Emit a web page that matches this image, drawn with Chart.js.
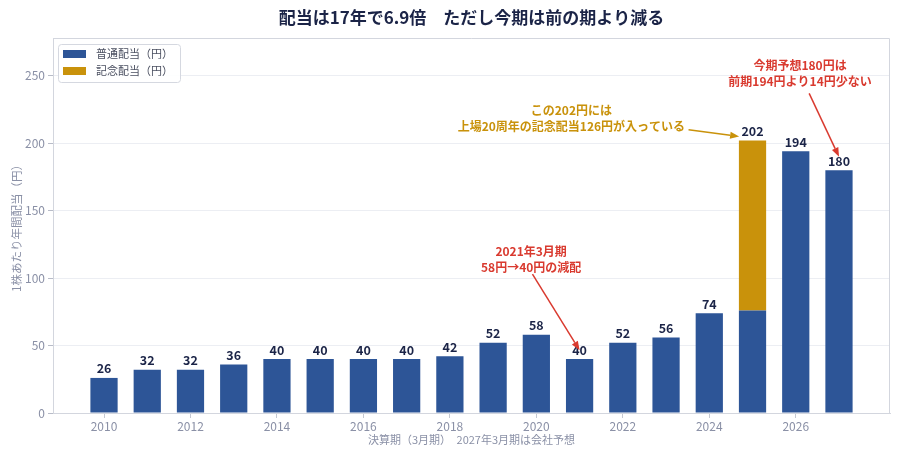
<!DOCTYPE html>
<html>
<head>
<meta charset="utf-8">
<script src="https://cdn.jsdelivr.net/npm/chart.js@4.4.1/dist/chart.umd.min.js"></script>
<style>
  html, body { margin: 0; background: #fff; }
</style>
</head>
<body>
<canvas id="dividendChart" width="900" height="456"></canvas>
<script>
// Data
const years = [2010, 2011, 2012, 2013, 2014, 2015, 2016, 2017, 2018, 2019, 2020, 2021, 2022, 2023, 2024, 2025, 2026, 2027];
const regular = [26, 32, 32, 36, 40, 40, 40, 40, 42, 52, 58, 40, 52, 56, 74, 76, 194, 180];
const commemorative = [null, null, null, null, null, null, null, null, null, null, null, null, null, null, null, 126, null, null];
const xTicks = [2010, 2012, 2014, 2016, 2018, 2020, 2022, 2024, 2026];
const yTicks = [0, 50, 100, 150, 200, 250];

const FONT = "'Noto Sans CJK JP', 'Noto Sans', sans-serif";
const BLUE = "#2d5597";
const GOLD = "#c9920b";
const RED = "#d93a2f";
const NAVY = "#1b2447";
const GRAY = "#8a90a6";

// Annotations in data coordinates: text centre, arrow start, arrow tip
const notes = [
  { lines: ["2021年3月期", "58円→40円の減配"], color: RED, at: [2019.88, 113.7], from: [2019.91, 103], to: [2021.0, 46.5] },
  { lines: ["この202円には", "上場20周年の記念配当126円が入っている"], color: GOLD, at: [2020.81, 218], from: [2023.52, 210], to: [2024.69, 205] },
  { lines: ["今期予想180円は", "前期194円より14円少ない"], color: RED, at: [2026.1, 251.8], from: [2026.31, 237], to: [2027.0, 190] },
];

function drawArrow(ctx, x1, y1, x2, y2, color) {
  const ang = Math.atan2(y2 - y1, x2 - x1);
  const len = 9, half = 3.5;
  ctx.save();
  ctx.strokeStyle = color;
  ctx.fillStyle = color;
  ctx.lineWidth = 1.5;
  ctx.beginPath();
  ctx.moveTo(x1, y1);
  ctx.lineTo(x2 - Math.cos(ang) * len, y2 - Math.sin(ang) * len);
  ctx.stroke();
  ctx.beginPath();
  ctx.moveTo(x2, y2);
  ctx.lineTo(x2 - Math.cos(ang) * len - Math.sin(ang) * half, y2 - Math.sin(ang) * len + Math.cos(ang) * half);
  ctx.lineTo(x2 - Math.cos(ang) * len + Math.sin(ang) * half, y2 - Math.sin(ang) * len - Math.cos(ang) * half);
  ctx.closePath();
  ctx.fill();
  ctx.restore();
}

const extras = {
  id: "extras",
  afterDraw(chart) {
    const { ctx, chartArea: area, scales } = chart;
    const x = scales.x, y = scales.y;

    // frame round the plot
    ctx.save();
    ctx.strokeStyle = "#d3d6de";
    ctx.lineWidth = 1;
    ctx.beginPath();
    ctx.moveTo(area.left, area.top + 0.5);
    ctx.lineTo(area.right - 0.5, area.top + 0.5);
    ctx.lineTo(area.right - 0.5, area.bottom);
    ctx.stroke();

    // title
    ctx.fillStyle = NAVY;
    ctx.font = "bold 17px " + FONT;
    ctx.textAlign = "center";
    ctx.textBaseline = "middle";
    ctx.fillText("配当は17年で6.9倍　ただし今期は前の期より減る", (area.left + area.right) / 2, 18);

    // value labels on top of each stack
    ctx.font = "600 12.5px " + FONT;
    ctx.textBaseline = "bottom";
    years.forEach((yr, i) => {
      const total = regular[i] + (commemorative[i] || 0);
      ctx.fillText(String(total), x.getPixelForValue(yr), y.getPixelForValue(total) - 3);
    });

    // annotations
    notes.forEach((n) => {
      ctx.fillStyle = n.color;
      ctx.font = "bold 12px " + FONT;
      ctx.textBaseline = "middle";
      const cx = x.getPixelForValue(n.at[0]);
      const cy = y.getPixelForValue(n.at[1]);
      ctx.fillText(n.lines[0], cx, cy - 8);
      ctx.fillText(n.lines[1], cx, cy + 8);
      drawArrow(ctx, x.getPixelForValue(n.from[0]), y.getPixelForValue(n.from[1]),
        x.getPixelForValue(n.to[0]), y.getPixelForValue(n.to[1]), n.color);
    });

    // legend inside the plot, top left
    const lx = area.left + 5, ly = area.top + 6;
    ctx.fillStyle = "rgba(255,255,255,0.9)";
    ctx.strokeStyle = "#d5d8e0";
    ctx.beginPath();
    ctx.roundRect(lx + 0.5, ly + 0.5, 122, 38, 3);
    ctx.fill();
    ctx.stroke();
    ctx.font = "11px " + FONT;
    ctx.textAlign = "left";
    chart.data.datasets.forEach((ds, i) => {
      const rowY = ly + 10 + i * 17;
      ctx.fillStyle = ds.backgroundColor;
      ctx.fillRect(lx + 5, rowY - 4, 23, 8);
      ctx.fillStyle = "#4a4f60";
      ctx.fillText(ds.label, lx + 38, rowY);
    });
    ctx.restore();
  },
};

new Chart(document.getElementById("dividendChart"), {
  type: "bar",
  data: {
    datasets: [
      {
        label: "普通配当（円）",
        data: years.map((yr, i) => ({ x: yr, y: regular[i] })),
        backgroundColor: BLUE,
        barPercentage: 0.63,
        categoryPercentage: 1,
      },
      {
        label: "記念配当（円）",
        data: years.map((yr, i) => ({ x: yr, y: commemorative[i] })),
        backgroundColor: GOLD,
        barPercentage: 0.63,
        categoryPercentage: 1,
      },
    ],
  },
  options: {
    responsive: false,
    animation: false,
    layout: { padding: { top: 38, right: 10, left: 10, bottom: 6 } },
    plugins: {
      legend: { display: false },
      tooltip: { enabled: false },
    },
    scales: {
      x: {
        type: "linear",
        stacked: true,
        offset: false,
        min: 2008.82,
        max: 2028.18,
        afterBuildTicks: (s) => { s.ticks = xTicks.map((v) => ({ value: v })); },
        afterFit: (s) => { s.height = 37; },
        ticks: { color: GRAY, font: { family: FONT, size: 12 }, padding: 1, callback: (v) => String(v) },
        grid: { offset: false, drawOnChartArea: false, tickLength: 5, color: "#c4c8d2" },
        border: { color: "#d3d6de" },
        title: {
          display: true,
          text: "決算期（3月期）　2027年3月期は会社予想",
          color: GRAY,
          font: { family: FONT, size: 11 },
          padding: { top: 0, bottom: 4 },
        },
      },
      y: {
        stacked: true,
        min: 0,
        max: 278,
        afterBuildTicks: (s) => { s.ticks = yTicks.map((v) => ({ value: v })); },
        afterFit: (s) => { s.width = 43; },
        ticks: { color: GRAY, font: { family: FONT, size: 12 }, padding: 3 },
        grid: { color: "#eceef3", tickColor: "#b8bcc8", tickLength: 5 },
        border: { color: "#d3d6de" },
        title: {
          display: true,
          text: "1株あたり年間配当（円）",
          color: GRAY,
          font: { family: FONT, size: 11.5 },
          padding: { top: 0, bottom: 0 },
        },
      },
    },
  },
  plugins: [extras],
});
</script>
</body>
</html>
